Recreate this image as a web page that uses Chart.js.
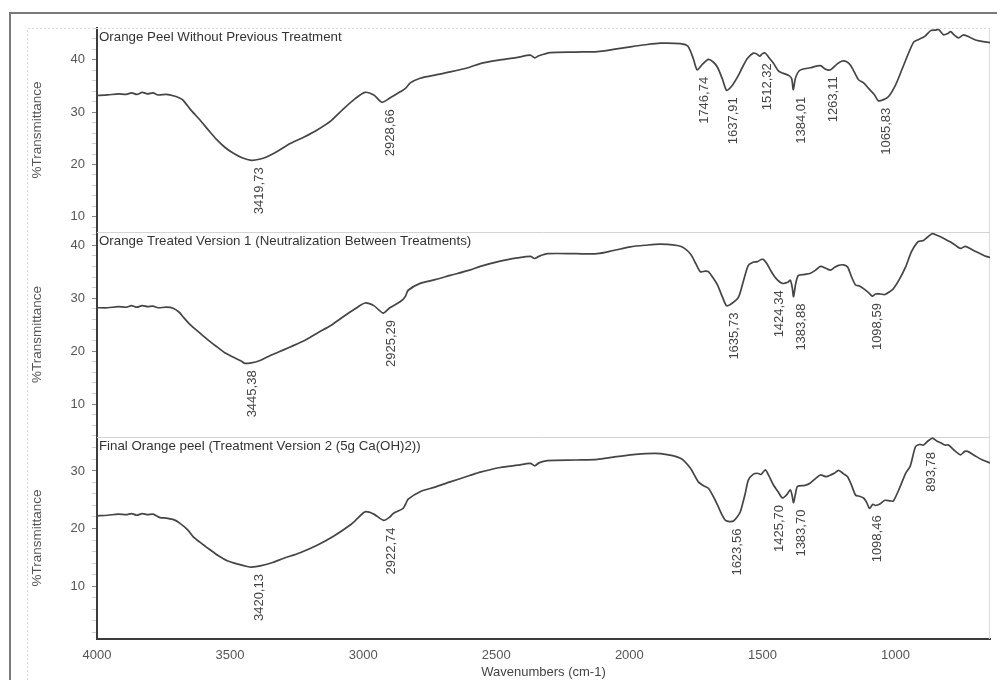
<!DOCTYPE html>
<html>
<head>
<meta charset="utf-8">
<script src="https://cdn.jsdelivr.net/npm/chart.js@4"></script>
<style>
  html, body { margin: 0; padding: 0; background: #fff; }
  #wrap { position: relative; width: 997px; height: 680px; overflow: hidden; }
  #frame { position: absolute; left: 9px; top: 12px; width: 1000px; height: 700px;
           border-top: 2px solid #7a7a7a; border-left: 2px solid #7a7a7a; pointer-events: none; }
  canvas { position: absolute; left: 0; top: 0; }
</style>
</head>
<body>
<div id="wrap">
  <canvas id="c" width="997" height="680"></canvas>
  <div id="frame"></div>
</div>
<script>
// ---------- DATA ----------
const panelTitles = [
  'Orange Peel Without Previous Treatment',
  'Orange Treated Version 1 (Neutralization Between Treatments)',
  'Final Orange peel (Treatment Version 2 (5g Ca(OH)2))'
];
const xTitle = 'Wavenumbers (cm-1)';
const yTitle = '%Transmittance';

const wnTop = [4000,3960,3920,3890,3870,3850,3830,3810,3790,3770,3740,3710,3690,3677,3650,3613,3580,3549,3520,3489,3455,3420,3390,3361,3320,3274,3220,3173,3120,3075,3030,2993,2960,2929,2900,2861,2840,2823,2786,2730,2673,2600,2560,2485,2420,2372,2355,2340,2297,2200,2120,2060,1996,1940,1883,1808,1780,1760,1745,1725,1703,1685,1669,1650,1635,1615,1594,1575,1556,1534,1520,1510,1500,1489,1475,1459,1440,1425,1400,1390,1384,1376,1360,1320,1282,1263,1244,1220,1200,1185,1169,1150,1139,1120,1102,1080,1065,1045,1026,1000,981,955,932,918,906,890,868,850,838,820,805,793,780,763,744,720,692,670,645];
const tTop = [33.2,33.3,33.5,33.4,33.7,33.4,33.8,33.5,33.7,33.3,33.4,33.1,32.7,32.3,30.6,28.5,26.5,24.7,23.3,22.2,21.3,20.8,21.0,21.5,22.6,24.0,25.3,26.6,28.4,30.6,32.6,33.8,33.3,31.9,32.7,33.9,34.6,35.6,36.5,37.1,37.7,38.6,39.3,40.0,40.5,40.9,40.4,40.8,41.4,41.5,41.6,42.0,42.5,42.9,43.2,43.1,42.6,40.3,38.1,39.2,40.1,39.6,38.6,36.3,34.2,35.0,36.7,38.6,40.3,41.3,41.1,40.7,41.2,41.3,40.4,39.4,37.9,37.5,37.0,36.4,34.3,36.5,38.0,38.5,38.9,38.2,38.1,39.2,39.8,39.7,39.0,37.2,36.2,35.6,34.6,33.4,32.2,32.4,33.0,35.2,37.5,40.8,43.4,43.8,44.1,44.5,45.6,45.7,45.8,44.8,45.0,45.4,44.8,44.2,44.8,44.3,43.7,43.5,43.3];

const wnMid = [4000,3960,3920,3890,3870,3850,3830,3810,3790,3770,3740,3714,3690,3677,3650,3613,3580,3549,3520,3489,3460,3445,3420,3390,3361,3320,3274,3220,3173,3120,3075,3030,2993,2960,2925,2900,2872,2850,2840,2831,2786,2730,2673,2600,2560,2485,2420,2372,2355,2340,2308,2200,2120,2060,1996,1940,1883,1808,1771,1750,1733,1715,1703,1685,1669,1650,1635,1615,1590,1570,1553,1535,1519,1505,1496,1483,1470,1450,1425,1405,1395,1388,1383,1376,1365,1340,1320,1300,1282,1260,1244,1230,1214,1195,1180,1165,1150,1135,1120,1100,1087,1075,1057,1040,1020,1008,985,962,940,917,905,895,878,861,845,831,815,793,775,756,737,710,681,660,645];
const tMid = [28.2,28.2,28.4,28.3,28.6,28.3,28.6,28.4,28.5,28.2,28.3,28.1,27.3,26.5,25.0,23.4,22.0,20.8,19.7,18.9,18.2,17.7,17.8,18.2,18.9,19.8,20.8,22.0,23.4,24.9,26.5,28.0,29.1,28.6,27.2,28.2,29.0,29.8,30.5,31.5,32.8,33.5,34.3,35.3,36.0,37.0,37.6,37.9,37.5,37.9,38.4,38.4,38.4,39.0,39.7,40.0,40.2,39.8,38.4,36.5,35.0,35.1,35.0,33.8,32.5,30.2,28.6,29.0,30.2,33.5,36.2,36.8,36.9,37.3,37.3,36.5,35.3,33.8,32.8,33.0,33.4,32.0,30.3,32.5,34.3,34.5,34.7,35.3,36.0,35.6,35.3,35.8,36.2,36.3,35.9,34.0,32.5,32.3,31.8,31.0,30.4,30.8,30.8,30.7,31.3,31.8,33.6,35.9,38.8,40.6,40.8,40.9,41.6,42.2,41.9,41.6,41.2,40.6,40.0,39.4,39.8,39.1,38.4,37.9,37.7];

const wnBot = [4000,3960,3920,3890,3870,3850,3830,3810,3790,3763,3740,3710,3688,3660,3639,3610,3575,3545,3511,3470,3436,3420,3387,3340,3300,3237,3173,3113,3049,3020,2993,2960,2923,2900,2887,2850,2840,2831,2786,2730,2673,2600,2560,2485,2420,2372,2355,2340,2308,2200,2120,2060,1996,1940,1883,1808,1771,1741,1720,1703,1685,1669,1650,1639,1623,1609,1595,1583,1565,1553,1535,1519,1505,1489,1475,1459,1440,1425,1410,1395,1388,1383,1376,1368,1340,1320,1300,1282,1260,1244,1230,1214,1195,1180,1165,1150,1135,1120,1108,1098,1085,1075,1057,1040,1020,1008,985,962,945,925,910,895,878,861,845,831,815,801,780,756,740,729,700,673,645];
const tBot = [22.2,22.3,22.5,22.4,22.6,22.3,22.6,22.4,22.5,21.9,21.8,21.5,20.9,19.8,18.6,17.5,16.3,15.3,14.4,13.8,13.4,13.3,13.5,14.1,14.8,15.8,17.1,18.6,20.6,21.8,22.9,22.5,21.4,22.0,22.6,23.5,24.3,25.1,26.4,27.2,28.1,29.2,29.8,30.6,31.0,31.3,30.9,31.4,31.8,31.9,32.0,32.4,32.8,33.0,33.0,32.2,30.5,28.1,27.4,27.0,25.6,24.1,22.2,21.4,21.2,21.3,22.0,22.9,26.0,28.4,29.4,29.6,29.4,30.2,29.1,27.6,26.3,25.3,25.8,26.7,25.6,24.5,26.0,27.3,27.5,27.9,28.7,29.3,29.0,29.3,29.6,30.1,29.5,29.0,27.5,25.8,25.6,25.3,24.5,23.5,24.2,24.0,24.3,24.9,24.8,24.8,27.0,29.6,30.8,34.2,34.6,34.5,35.2,35.7,35.2,34.9,34.5,34.5,33.6,32.8,33.4,33.4,32.6,31.9,31.4];

const peaksTop = [3419.73, 2928.66, 1746.74, 1637.91, 1512.32, 1384.01, 1263.11, 1065.83];
const peakLabelsTop = ['3419,73','2928,66','1746,74','1637,91','1512,32','1384,01','1263,11','1065,83'];
const peaksMid = [3445.38, 2925.29, 1635.73, 1424.34, 1383.88, 1098.59];
const peakLabelsMid = ['3445,38','2925,29','1635,73','1424,34','1383,88','1098,59'];
const peaksBot = [3420.13, 2922.74, 1623.56, 1425.70, 1383.70, 1098.46, 893.78];
const peakLabelsBot = ['3420,13','2922,74','1623,56','1425,70','1383,70','1098,46','893,78'];

const xTicks = [4000, 3500, 3000, 2500, 2000, 1500, 1000];
const xRange = [645, 4000];
const rangeTop = [7.1, 46.1];
const rangeMid = [3.8, 42.5];
const rangeBot = [0.8, 35.9];

// ---------- BUILD ----------
const FONT = "'Liberation Sans', Arial, sans-serif";
const LINE = '#454545';
const toPts = (xs, ys) => xs.map((x, i) => ({x: x, y: ys[i]}));

const panels = [
  {axis: 'yTop', title: panelTitles[0], wn: wnTop, t: tTop, peaks: peaksTop, labels: peakLabelsTop},
  {axis: 'yMid', title: panelTitles[1], wn: wnMid, t: tMid, peaks: peaksMid, labels: peakLabelsMid},
  {axis: 'yBot', title: panelTitles[2], wn: wnBot, t: tBot, peaks: peaksBot, labels: peakLabelsBot}
];

function yAxis(range, weight) {
  return {
    type: 'linear', position: 'left', stack: 'ir', stackWeight: weight, offset: false,
    min: range[0], max: range[1],
    title: {display: true, text: yTitle, color: '#555', font: {family: FONT, size: 13.5}, padding: {top: 4, bottom: 4}},
    ticks: {
      stepSize: 2, includeBounds: false, autoSkip: false, padding: 7, color: '#555',
      font: {family: FONT, size: 13},
      callback: v => (Math.abs(v % 10) < 1e-6 ? String(v) : '')
    },
    grid: {
      drawOnChartArea: false, drawTicks: true, tickLength: 5,
      tickColor: c => (c.tick && Math.abs(c.tick.value % 10) < 1e-6 ? '#8a8a8a' : '#cfcfcf'),
      tickWidth: 1
    },
    border: {display: true, color: '#3c3c3c', width: 2},
    afterFit: s => { s.width = 72; }
  };
}

const decor = {
  id: 'decor',
  beforeDatasetsDraw(chart) {
    const {ctx, chartArea: a} = chart;
    ctx.save();
    ctx.strokeStyle = '#dcdcdc';
    ctx.lineWidth = 1;
    ctx.setLineDash([2, 2]);
    ctx.beginPath();
    ctx.moveTo(27.5, 680); ctx.lineTo(27.5, a.top + 0.5); ctx.lineTo(a.right, a.top + 0.5);
    ctx.stroke();
    ctx.setLineDash([]);
    ctx.strokeStyle = '#dddddd';
    ctx.beginPath();
    ctx.moveTo(a.right - 0.5, a.top); ctx.lineTo(a.right - 0.5, a.bottom);
    ctx.stroke();
    ctx.strokeStyle = '#d4d4d4';
    ['yTop', 'yMid'].forEach(id => {
      const s = chart.scales[id];
      const y = Math.round(s.bottom) + 0.5;
      ctx.beginPath(); ctx.moveTo(a.left, y); ctx.lineTo(a.right, y); ctx.stroke();
    });
    ctx.restore();
  },
  afterDraw(chart) {
    const {ctx} = chart;
    const xs = chart.scales.x;
    ctx.save();
    panels.forEach(p => {
      const ys = chart.scales[p.axis];
      ctx.fillStyle = '#333';
      ctx.font = '13.3px ' + FONT;
      ctx.textAlign = 'left';
      ctx.textBaseline = 'middle';
      ctx.fillText(p.title, chart.chartArea.left + 2, ys.top + 9);
      ctx.fillStyle = '#444';
      ctx.font = '13px ' + FONT;
      p.peaks.forEach((pk, i) => {
        let minT = Infinity;
        p.wn.forEach((w, j) => { if (Math.abs(w - pk) <= 15 && p.t[j] < minT) minT = p.t[j]; });
        const px = xs.getPixelForValue(pk);
        const py = ys.getPixelForValue(minT) + 7;
        const next = p.peaks[i + 1];
        const close = next !== undefined && Math.abs(xs.getPixelForValue(next) - px) < 16;
        const lx = px + (close ? -3 : 8);
        ctx.save();
        ctx.translate(lx, py);
        ctx.rotate(-Math.PI / 2);
        ctx.textAlign = 'right';
        ctx.textBaseline = 'middle';
        ctx.fillText(p.labels[i], 0, 0);
        ctx.restore();
      });
    });
    ctx.restore();
  }
};

new Chart(document.getElementById('c'), {
  type: 'line',
  data: {
    datasets: panels.map(p => ({
      data: toPts(p.wn, p.t), yAxisID: p.axis,
      borderColor: LINE, borderWidth: 1.7, pointRadius: 0, tension: 0.25, fill: false
    })).reverse()
  },
  options: {
    responsive: false, animation: false, devicePixelRatio: 1,
    layout: {padding: {left: 25, right: 7, top: 28, bottom: 0}},
    plugins: {legend: {display: false}, tooltip: {enabled: false}},
    scales: {
      x: {
        type: 'linear', reverse: true, min: xRange[0], max: xRange[1],
        afterBuildTicks: s => { s.ticks = xTicks.map(v => ({value: v})); },
        ticks: {color: '#555', font: {family: FONT, size: 13}, padding: 9, autoSkip: false, maxRotation: 0,
                callback: v => String(v)},
        grid: {drawOnChartArea: false, drawTicks: false},
        border: {display: true, color: '#3c3c3c', width: 2},
        title: {display: true, text: xTitle, color: '#444', font: {family: FONT, size: 13}, padding: {top: 0, bottom: 0}},
        afterFit: s => { s.height = 41; }
      },
      yBot: yAxis(rangeBot, 202),
      yMid: yAxis(rangeMid, 205),
      yTop: yAxis(rangeTop, 204)
    }
  },
  plugins: [decor]
});
</script>
</body>
</html>
